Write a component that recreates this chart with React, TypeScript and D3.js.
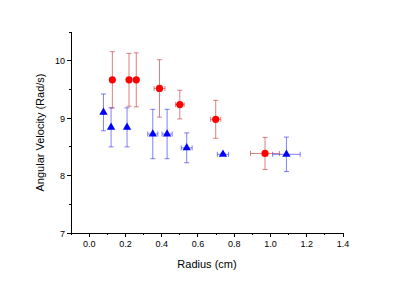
import React from "react";
import * as d3 from "d3";

const width = 398;
const height = 281;

// red circles: radius, angular velocity, errors
const redX = [0.128, 0.22, 0.26, 0.388, 0.5, 0.698, 0.97];
const redY = [9.667, 9.667, 9.667, 9.517, 9.236, 8.98, 8.385];
const redXErr = [0.005, 0.005, 0.005, 0.03, 0.024, 0.028, 0.08];
const redYErr = [0.49, 0.46, 0.47, 0.5, 0.25, 0.33, 0.28];

// blue triangles
const blueX = [0.079, 0.121, 0.209, 0.351, 0.43, 0.538, 0.738, 1.088];
const blueY = [9.1, 8.84, 8.84, 8.724, 8.724, 8.483, 8.37, 8.37];
const blueXErr = [0.005, 0.005, 0.005, 0.028, 0.028, 0.03, 0.031, 0.076];
const blueYErr = [0.32, 0.34, 0.34, 0.43, 0.43, 0.26, 0.02, 0.3];

const xMajor = [0, 0.2, 0.4, 0.6, 0.8, 1.0, 1.2, 1.4];
const xMinor = [-0.1, 0.1, 0.3, 0.5, 0.7, 0.9, 1.1, 1.3];
const yMajor = [7, 8, 9, 10];
const yMinor = [7.5, 8.5, 9.5, 10.5];

const font = "'Liberation Sans', Arial, sans-serif";

const App = () => {
  const x = d3.scaleLinear().domain([-0.1, 1.4]).range([71, 343]);
  const y = d3.scaleLinear().domain([7, 10.5]).range([233, 32]);
  const tri = d3.symbol().type(d3.symbolTriangle).size(30)();

  const errBars = (xs, ys, xe, ye, color) =>
    xs.map((v, i) => {
      const cx = x(v);
      const cy = y(ys[i]);
      const x0 = x(v - xe[i]);
      const x1 = x(v + xe[i]);
      const y0 = y(ys[i] + ye[i]);
      const y1 = y(ys[i] - ye[i]);
      return (
        <g key={i} stroke={color} strokeWidth={1} fill="none">
          <line x1={cx} x2={cx} y1={y0} y2={y1} />
          <line x1={cx - 2.5} x2={cx + 2.5} y1={y0} y2={y0} />
          <line x1={cx - 2.5} x2={cx + 2.5} y1={y1} y2={y1} />
          <line x1={x0} x2={x1} y1={cy} y2={cy} />
          <line x1={x0} x2={x0} y1={cy - 2.5} y2={cy + 2.5} />
          <line x1={x1} x2={x1} y1={cy - 2.5} y2={cy + 2.5} />
        </g>
      );
    });

  return (
    <svg
      width={width}
      height={height}
      style={{ position: "absolute", left: 0, top: 0, background: "#fff" }}
    >
      {errBars(redX, redY, redXErr, redYErr, "rgba(200,60,60,0.65)")}
      {errBars(blueX, blueY, blueXErr, blueYErr, "rgba(60,60,240,0.65)")}
      {redX.map((v, i) => (
        <circle key={i} cx={x(v)} cy={y(redY[i])} r={3.6} fill="#ff0000" />
      ))}
      {blueX.map((v, i) => (
        <path
          key={i}
          d={tri}
          transform={`translate(${x(v)},${y(blueY[i])})`}
          fill="#0000ff"
        />
      ))}

      {/* axes */}
      <g stroke="#000" strokeWidth={1} shapeRendering="crispEdges">
        <line x1={x(-0.1)} x2={x(1.4)} y1={y(7)} y2={y(7)} />
        <line x1={x(-0.1)} x2={x(-0.1)} y1={y(7)} y2={y(10.5)} />
        {xMajor.map((t) => (
          <line key={t} x1={x(t)} x2={x(t)} y1={y(7)} y2={y(7) + 4} />
        ))}
        {xMinor.map((t) => (
          <line key={t} x1={x(t)} x2={x(t)} y1={y(7)} y2={y(7) + 2} />
        ))}
        {yMajor.map((t) => (
          <line key={t} x1={x(-0.1) - 4} x2={x(-0.1)} y1={y(t)} y2={y(t)} />
        ))}
        {yMinor.map((t) => (
          <line key={t} x1={x(-0.1) - 2} x2={x(-0.1)} y1={y(t)} y2={y(t)} />
        ))}
      </g>
      <g fontFamily={font} fontSize={9} fill="#000">
        {xMajor.map((t) => (
          <text key={t} x={x(t)} y={y(7) + 14} textAnchor="middle">
            {d3.format(".1f")(t)}
          </text>
        ))}
        {yMajor.map((t) => (
          <text key={t} x={x(-0.1) - 6} y={y(t) + 3.5} textAnchor="end">
            {t}
          </text>
        ))}
      </g>
      <text
        x={(x(-0.1) + x(1.4)) / 2}
        y={268}
        textAnchor="middle"
        fontFamily={font}
        fontSize={11}
      >
        Radius (cm)
      </text>
      <text
        transform={`translate(44,${(y(7) + y(10.5)) / 2}) rotate(-90)`}
        textAnchor="middle"
        fontFamily={font}
        fontSize={11}
      >
        Angular Velocity (Rad/s)
      </text>
    </svg>
  );
};

export default App;
